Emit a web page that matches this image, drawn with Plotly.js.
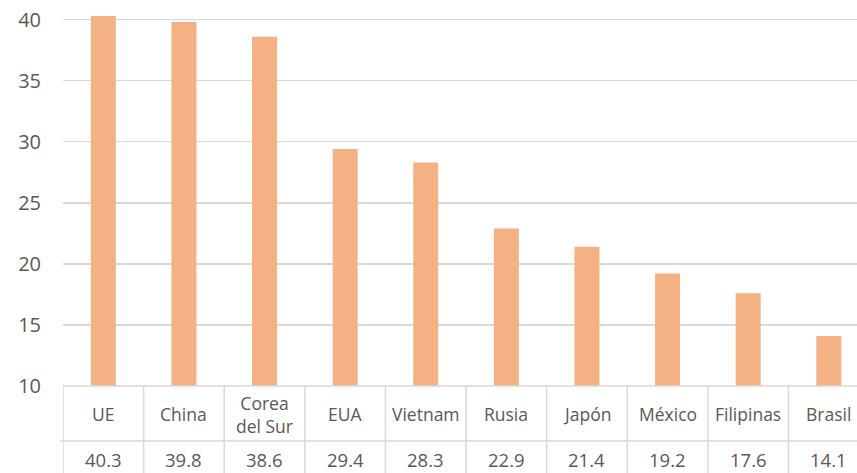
<!DOCTYPE html>
<html>
<head>
<meta charset="utf-8">
<script src="https://cdn.plot.ly/plotly-3.0.1.min.js"></script>
<style>
  html, body { margin: 0; padding: 0; background: #fff; }
  #plotly_graph { width: 857px; height: 473px; }
</style>
</head>
<body>
<div id="plotly_graph"></div>
<script>
    // ~~~~~~~~~~~~~~~~~~~~~~~~~~~~~~~~ DATA ~~~~~~~~~~~~~~~~~~~~~~~~~~~~~~~~
    const CATEGORIES = ["UE", "China", "Corea del Sur", "EUA", "Vietnam", "Rusia", "Japón", "México", "Filipinas", "Brasil"]
    const LABELS = ["UE", "China", "Corea<br>del Sur", "EUA", "Vietnam", "Rusia", "Japón", "México", "Filipinas", "Brasil"]
    const VALUES = [40.3, 39.8, 38.6, 29.4, 28.3, 22.9, 21.4, 19.2, 17.6, 14.1]
    const Y_TICKS = [10, 15, 20, 25, 30, 35, 40]

    const TEXT_COLOR = '#595959'
    const LINE_COLOR = '#d9d9d9'
    const FONT = '"Open Sans", "Noto Sans", sans-serif'

    let graphDiv = document.getElementById('plotly_graph')

    // plot area in pixels (table sits under it, in the bottom margin)
    const PLOT_H = 386
    const ROW_SPLIT = -(441 - PLOT_H) / PLOT_H      // line between the two rows
    const TABLE_BOTTOM = -(473 - PLOT_H) / PLOT_H
    const LABEL_Y = -(414 - PLOT_H) / PLOT_H
    const VALUE_Y = -(459 - PLOT_H) / PLOT_H

    let trace = {
        type: 'bar',
        x: CATEGORIES,
        y: VALUES.map(v => v - 10),
        base: 10,
        width: 0.31,
        marker: { color: '#F4B183' },
        hoverinfo: 'skip'
    }

    // ~~~~~~~~~~~~~~~~~~~~~~~~~~~~~~~ TABLE ~~~~~~~~~~~~~~~~~~~~~~~~~~~~~~~~
    let shapes = []
    let annotations = []

    // horizontal rules
    shapes.push({ type: 'line', xref: 'paper', yref: 'paper', x0: 0, x1: 1.02, y0: 0, y1: 0,
                  line: { color: LINE_COLOR, width: 1.5 } })
    shapes.push({ type: 'line', xref: 'paper', yref: 'paper', x0: -0.004, x1: 1.02, y0: ROW_SPLIT, y1: ROW_SPLIT,
                  line: { color: LINE_COLOR, width: 1.5 } })

    // vertical rules between cells
    for (let i = 0; i <= CATEGORIES.length; i++) {
        shapes.push({ type: 'line', xref: 'x', yref: 'paper', x0: i - 0.5, x1: i - 0.5,
                      y0: 0, y1: TABLE_BOTTOM, line: { color: LINE_COLOR, width: 1.5 } })
    }

    CATEGORIES.forEach((c, i) => {
        annotations.push({ xref: 'x', yref: 'paper', x: c, y: LABEL_Y, text: LABELS[i],
                           showarrow: false, yanchor: 'middle',
                           font: { family: FONT, size: 17.5, color: TEXT_COLOR } })
        annotations.push({ xref: 'x', yref: 'paper', x: c, y: VALUE_Y, text: VALUES[i].toFixed(1),
                           showarrow: false, yanchor: 'middle',
                           font: { family: FONT, size: 18.5, color: TEXT_COLOR } })
    })

    // ~~~~~~~~~~~~~~~~~~~~~~~~~~~~~~~ LAYOUT ~~~~~~~~~~~~~~~~~~~~~~~~~~~~~~~
    let layout = {
        width: 857,
        height: 473,
        margin: { t: 0, r: 0, b: 473 - PLOT_H, l: 63 },
        paper_bgcolor: '#fff',
        plot_bgcolor: '#fff',
        showlegend: false,
        font: { family: FONT, color: TEXT_COLOR },
        xaxis: {
            type: 'category',
            range: [-0.5, 9.35],
            showticklabels: false,
            showgrid: false,
            zeroline: false,
            fixedrange: true
        },
        yaxis: {
            range: [10, 41.6],
            tickvals: Y_TICKS,
            ticktext: Y_TICKS.map(String),
            tickfont: { family: FONT, size: 20, color: TEXT_COLOR },
            ticklabelstandoff: 21,
            showgrid: true,
            gridcolor: LINE_COLOR,
            gridwidth: 1.5,
            zeroline: false,
            showline: false,
            fixedrange: true
        },
        shapes: shapes,
        annotations: annotations
    }

    const config = { displayModeBar: false, staticPlot: true }

    Plotly.newPlot(graphDiv, [trace], layout, config)
</script>
</body>
</html>
